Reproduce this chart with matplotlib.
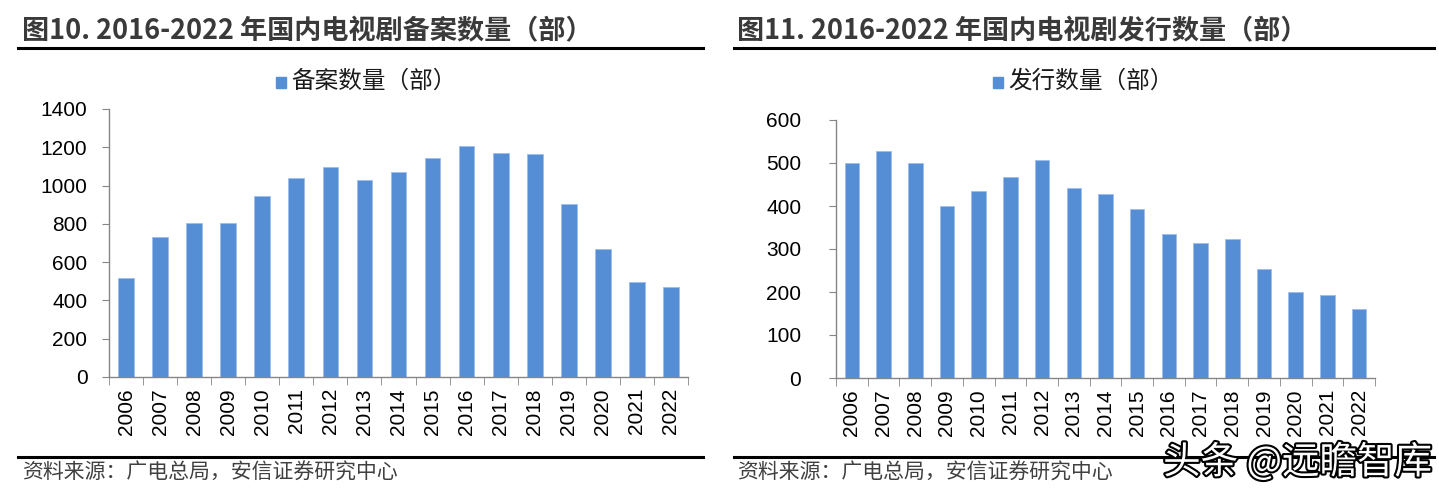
import matplotlib
matplotlib.use("Agg")
import matplotlib.pyplot as plt
import matplotlib.patheffects as pe
from matplotlib.patches import Rectangle
from matplotlib.lines import Line2D

plt.rcParams['font.family'] = ['Noto Sans CJK SC', 'DejaVu Sans']

years = [str(y) for y in range(2006, 2023)]
filed = [515, 731, 805, 807, 948, 1039, 1096, 1028, 1072, 1145, 1205, 1169, 1164, 903, 669, 495, 471]
issued = [500, 529, 500, 401, 436, 468, 506, 441, 429, 394, 334, 313, 323, 254, 201, 193, 160]

title_left = "图10. 2016-2022 年国内电视剧备案数量（部）"
title_right = "图11. 2016-2022 年国内电视剧发行数量（部）"
legend_left = "备案数量（部）"
legend_right = "发行数量（部）"
source = "资料来源：广电总局，安信证券研究中心"
watermark = "头条 @远瞻智库"

bar_color = "#558ED5"
spine_color = "#868686"
W, H = 1439, 495

fig = plt.figure(figsize=(W / 100, H / 100), dpi=100)


def fx(px):
    return px / W


def fy(py):
    return 1 - py / H


def panel(x0, x1, ytop, ybot, ymax, step, values, ttl, leg, tx, lx0, lx1, legx, ypad):
    ax = fig.add_axes([fx(x0), fy(ybot), fx(x1 - x0), fy(ytop) - fy(ybot)])
    pos = list(range(len(values)))
    ax.bar(pos, values, width=0.46, color=bar_color, edgecolor="#9DBEE8", linewidth=0.6, zorder=2)
    ax.set_xlim(-0.5, len(values) - 0.5)
    ax.set_ylim(0, ymax)
    ax.set_yticks(list(range(0, ymax + 1, step)))
    ax.set_xticks(pos)
    ax.set_xticklabels(years, rotation=90, fontsize=15, family=['Liberation Sans', 'DejaVu Sans'])
    ax.set_xticks([p + 0.5 for p in [-1] + pos], minor=True)
    ax.tick_params(axis='x', which='major', length=0, pad=8)
    ax.tick_params(axis='x', which='minor', length=6, color=spine_color, direction='out')
    ax.tick_params(axis='y', length=5, color=spine_color, direction='out', labelsize=15, pad=ypad)
    for lbl in ax.get_yticklabels():
        lbl.set_family(['Liberation Sans', 'DejaVu Sans'])
    for s in ['top', 'right']:
        ax.spines[s].set_visible(False)
    for s in ['left', 'bottom']:
        ax.spines[s].set_color(spine_color)
        ax.spines[s].set_linewidth(1.0)
    # title and rules
    fig.text(fx(tx), fy(31), ttl, fontsize=19.5, fontweight='bold', color='#3A3A3A', va='center', ha='left')
    fig.add_artist(Line2D([fx(lx0), fx(lx1)], [fy(47.5), fy(47.5)], color='black', lw=2.2))
    fig.add_artist(Line2D([fx(lx0), fx(lx1)], [fy(457), fy(457)], color='black', lw=2.2))
    fig.text(fx(tx), fy(473), source, fontsize=15, color='#404040', va='center', ha='left')
    # legend
    fig.add_artist(Rectangle((fx(legx), fy(88)), fx(10), fy(77) - fy(88), color=bar_color))
    fig.text(fx(legx + 15), fy(81), leg, fontsize=17, color='#1A1A1A', va='center', ha='left')
    return ax


panel(109, 688, 109, 377, 1400, 200, filed, title_left, legend_left, 22, 18, 703, 276, 10.5)
panel(836, 1375, 120, 378, 600, 100, issued, title_right, legend_right, 737, 734, 1434, 993, 20)

fig.text(fx(1432), fy(463), watermark, fontsize=27, color='white', ha='right', va='center',
         path_effects=[pe.withStroke(linewidth=3, foreground='black')])

fig.savefig("out.png", dpi=100)
